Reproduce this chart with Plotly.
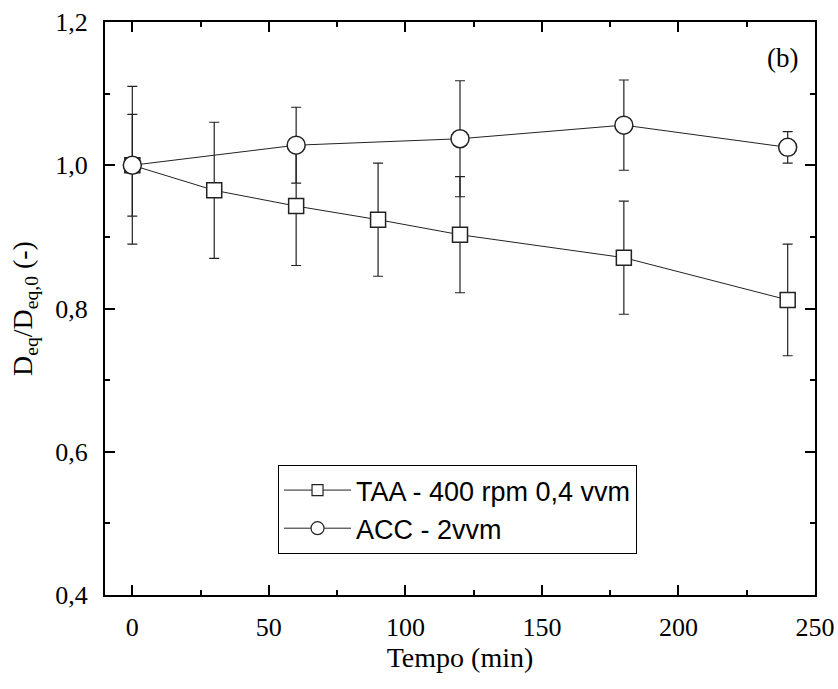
import plotly.graph_objects as go

# Data
taa_t = [0, 30, 60, 90, 120, 180, 240]
taa_y = [1.000, 0.965, 0.943, 0.924, 0.903, 0.871, 0.812]
taa_err = [0.110, 0.095, 0.083, 0.079, 0.081, 0.079, 0.078]

acc_t = [0, 60, 120, 180, 240]
acc_y = [1.000, 1.028, 1.037, 1.056, 1.025]
acc_err = [0.071, 0.053, 0.081, 0.063, 0.022]

taa_name = "TAA - 400 rpm 0,4 vvm"
acc_name = "ACC - 2vvm"

x_ticks = [0, 50, 100, 150, 200, 250]
y_ticks = [0.4, 0.6, 0.8, 1.0, 1.2]

serif = "Liberation Serif"
sans = "Liberation Sans"
ink = "#222222"

fig = go.Figure()

fig.add_trace(go.Scatter(
    x=taa_t, y=taa_y, name=taa_name, mode="lines+markers", showlegend=False,
    line=dict(color=ink, width=1),
    marker=dict(symbol="square", size=15, color="white", line=dict(color=ink, width=1.5)),
    error_y=dict(type="data", array=taa_err, visible=True, color=ink, thickness=1.2, width=5),
))
fig.add_trace(go.Scatter(
    x=acc_t, y=acc_y, name=acc_name, mode="lines+markers", showlegend=False,
    line=dict(color=ink, width=1),
    marker=dict(symbol="circle", size=18, color="white", line=dict(color=ink, width=1.5)),
    error_y=dict(type="data", array=acc_err, visible=True, color=ink, thickness=1.2, width=5),
))
# legend entries (smaller symbols, as in the reference legend)
fig.add_trace(go.Scatter(
    x=[None], y=[None], name=taa_name, mode="lines+markers",
    line=dict(color=ink, width=1),
    marker=dict(symbol="square", size=11, color="white", line=dict(color=ink, width=1.2)),
))
fig.add_trace(go.Scatter(
    x=[None], y=[None], name=acc_name, mode="lines+markers",
    line=dict(color=ink, width=1),
    marker=dict(symbol="circle", size=13, color="white", line=dict(color=ink, width=1.2)),
))

axis_common = dict(
    showline=True, linecolor="black", linewidth=2, mirror="allticks",
    ticks="inside", ticklen=10, tickwidth=2, tickcolor="black",
    showgrid=False, zeroline=False, automargin=False,
    tickfont=dict(family=serif, size=26, color="black"),
)

fig.update_xaxes(
    range=[-10, 250], tickvals=x_ticks,
    minor=dict(ticks="inside", ticklen=5, tickwidth=2, tickcolor="black", dtick=25, tick0=0, showgrid=False),
    title=dict(text="Tempo (min)", font=dict(family=serif, size=28, color="black"), standoff=4),
    ticklabelstandoff=8,
    **axis_common,
)
fig.update_yaxes(
    range=[0.4, 1.2], tickvals=y_ticks, tickformat=".1f",
    minor=dict(ticks="inside", ticklen=5, tickwidth=2, tickcolor="black", dtick=0.1, tick0=0.4, showgrid=False),
    title=dict(text="D<sub>eq</sub>/D<sub>eq,0</sub> (-)", font=dict(family=serif, size=28, color="black"), standoff=14),
    ticklabelstandoff=10,
    **axis_common,
)

fig.add_annotation(
    x=0.979, y=0.937, xref="paper", yref="paper", xanchor="right", yanchor="middle",
    text="(b)", showarrow=False, font=dict(family=serif, size=27, color="black"),
)

fig.update_layout(
    width=838, height=689,
    margin=dict(l=105, r=23, t=22, b=94),
    paper_bgcolor="white", plot_bgcolor="white",
    separators=",.",
    showlegend=True,
    legend=dict(
        x=0.2437, y=0.2268, xanchor="left", yanchor="top",
        bgcolor="white", bordercolor="black", borderwidth=1,
        font=dict(family=sans, size=27, color="black"),
        itemwidth=67, tracegroupgap=0,
    ),
)

fig.write_html("out.html", config={"displayModeBar": False},
               post_script="document.body.style.margin='0';")
